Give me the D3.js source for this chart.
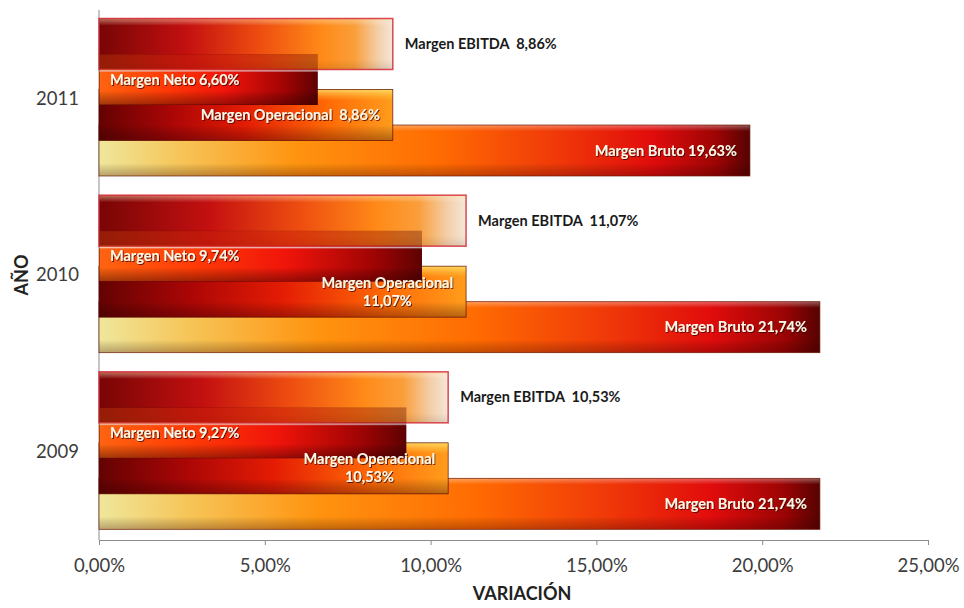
<!DOCTYPE html>
<html>
<head>
<meta charset="utf-8">
<script src="https://cdn.jsdelivr.net/npm/d3@7"></script>
<style>
  body { margin: 0; background: #fff; }
  svg { display: block; font-family: Lato, "Open Sans", sans-serif; }
  text { white-space: pre; }
</style>
</head>
<body>
<svg id="chart" width="964" height="608"></svg>
<script>
// ---- data ----
const years = ["2009", "2010", "2011"];
const seriesNames = ["Margen EBITDA", "Margen Neto", "Margen Operacional", "Margen Bruto"];
const ebitda = [10.53, 11.07, 8.86];
const neto = [9.27, 9.74, 6.60];
const operacional = [10.53, 11.07, 8.86];
const bruto = [21.74, 21.74, 19.63];
const operacionalTwoLines = [true, true, false];
const xTicks = [0, 5, 10, 15, 20, 25];
const xTitle = "VARIACIÓN";
const yTitle = "AÑO";

const rows = years.map((year, i) => ({
  year,
  values: {
    "Margen EBITDA": ebitda[i],
    "Margen Neto": neto[i],
    "Margen Operacional": operacional[i],
    "Margen Bruto": bruto[i]
  },
  opTwoLines: operacionalTwoLines[i]
}));

const locale = d3.formatLocale({ decimal: ",", thousands: ".", grouping: [3], currency: ["", "€"] });
const fmt2 = locale.format(".2f");
const pct = v => fmt2(v) + "%";

// ---- layout ----
const svg = d3.select("#chart");
const plot = { left: 99, right: 928, top: 10, bottom: 540 };

const x = d3.scaleLinear().domain([0, 25]).range([plot.left, plot.right]);
const yBand = d3.scaleBand().domain(years.slice().reverse()).range([plot.top, plot.bottom]);
const groupInset = 8.5;
const barH = 51;
const ySeries = d3.scalePoint().domain(seriesNames).range([0, 3 * 35.5]);
const barTop = (year, s) => yBand(year) + groupInset + ySeries(s);

// ---- gradients ----
const defs = svg.append("defs");
function hGrad(id, stops) {
  const g = defs.append("linearGradient").attr("id", id)
    .attr("x1", 0).attr("y1", 0).attr("x2", 1).attr("y2", 0);
  stops.forEach(([o, c, a]) => g.append("stop").attr("offset", o).attr("stop-color", c)
    .attr("stop-opacity", a == null ? 1 : a));
}
function vGrad(id, stops) {
  const g = defs.append("linearGradient").attr("id", id)
    .attr("x1", 0).attr("y1", 0).attr("x2", 0).attr("y2", 1);
  stops.forEach(([o, c, a]) => g.append("stop").attr("offset", o).attr("stop-color", c)
    .attr("stop-opacity", a == null ? 1 : a));
}

hGrad("g-ebitda", [[0, "#780505"], [0.3, "#c41010"], [0.55, "#ee4e10"], [0.76, "#ff8a18"], [0.87, "#fa9e3a"], [0.95, "#f3cfaa"], [1, "#f5e6d8"]]);
vGrad("s-ebitda", [[0, "#ffe0a0", 0.5], [0.14, "#ffffff", 0], [0.8, "#000000", 0], [1, "#000000", 0.1]]);

hGrad("g-bruto", [[0, "#efe79c"], [0.12, "#f6c65a"], [0.3, "#ff9410"], [0.52, "#ff6c02"], [0.7, "#f03a08"], [0.85, "#e10c0c"], [0.95, "#9c0404"], [1, "#560202"]]);
vGrad("s-bruto", [[0, "#ffffff", 0.35], [0.12, "#ffffff", 0], [0.75, "#000000", 0], [1, "#3a0000", 0.3]]);

hGrad("g-op", [[0, "#640202"], [0.25, "#ab0606"], [0.5, "#e41c04"], [0.78, "#ff6a06"], [1, "#ff9c1c"]]);
vGrad("s-op", [[0, "#fff07a", 0.75], [0.22, "#ffd040", 0], [0.7, "#000000", 0], [1, "#300000", 0.35]]);

hGrad("g-neto", [[0, "#ff6410"], [0.3, "#ff3a06"], [0.58, "#f0140a"], [0.85, "#a00404"], [1, "#5e0202"]]);
vGrad("s-neto", [[0, "#300000", 0.28], [0.32, "#300000", 0.2], [0.36, "#000000", 0], [0.72, "#000000", 0], [1, "#300000", 0.45]]);
vGrad("m-neto-g", [[0, "#ffffff", 0.35], [0.33, "#ffffff", 0.35], [0.36, "#ffffff", 1], [1, "#ffffff", 1]]);
const mask = defs.append("mask").attr("id", "m-neto").attr("maskContentUnits", "objectBoundingBox");
mask.append("rect").attr("width", 1).attr("height", 1).attr("fill", "url(#m-neto-g)");

const shadow = defs.append("filter").attr("id", "txt-shadow")
  .attr("x", "-10%").attr("y", "-30%").attr("width", "120%").attr("height", "160%");
shadow.append("feDropShadow").attr("dx", 0.9).attr("dy", 0.9).attr("stdDeviation", 0.7)
  .attr("flood-color", "#3a0000").attr("flood-opacity", 0.85);

// ---- axes ----
svg.append("line")
  .attr("x1", plot.left).attr("x2", plot.left)
  .attr("y1", plot.top).attr("y2", plot.bottom)
  .attr("stroke", "#8c8c8c").attr("stroke-width", 1);

const xAxis = svg.append("g").attr("transform", `translate(0,${plot.bottom})`)
  .call(d3.axisBottom(x).tickValues(xTicks).tickFormat(pct).tickSizeInner(5).tickSizeOuter(0));
xAxis.select(".domain").attr("stroke", "#8c8c8c");
xAxis.selectAll(".tick line").attr("stroke", "#8c8c8c");
xAxis.selectAll(".tick text")
  .attr("y", 26).attr("dy", "0.35em")
  .attr("fill", "#3c3c3c").attr("font-size", 18.5).attr("font-family", "Lato, sans-serif");

svg.selectAll(".year-label").data(years).join("text")
  .attr("class", "year-label")
  .attr("x", 79).attr("y", d => yBand(d) + yBand.bandwidth() / 2)
  .attr("dy", "0.35em").attr("text-anchor", "end")
  .attr("fill", "#3c3c3c").attr("font-size", 18.5).text(d => d);

svg.append("text")
  .attr("x", 522).attr("y", 594).attr("dy", "0.35em")
  .attr("text-anchor", "middle").attr("font-weight", "bold").attr("font-size", 18)
  .attr("fill", "#222").text(xTitle);

svg.append("text")
  .attr("transform", `translate(22,${(plot.top + plot.bottom) / 2}) rotate(-90)`)
  .attr("dy", "0.35em").attr("text-anchor", "middle")
  .attr("font-weight", "bold").attr("font-size", 18).attr("fill", "#222").text(yTitle);

// ---- bars ----
const drawOrder = ["Margen EBITDA", "Margen Bruto", "Margen Operacional", "Margen Neto"];
const style = {
  "Margen EBITDA": { fill: "g-ebitda", shade: "s-ebitda", stroke: "#d42a3a", sw: 1.5 },
  "Margen Bruto": { fill: "g-bruto", shade: "s-bruto", stroke: "#6a1a04", sw: 0.8 },
  "Margen Operacional": { fill: "g-op", shade: "s-op", stroke: "#5a0a02", sw: 0.8 },
  "Margen Neto": { fill: "g-neto", shade: "s-neto", stroke: "#4a0000", sw: 0.9, mask: "m-neto" }
};

const barsG = svg.append("g");
drawOrder.forEach(s => {
  const st = style[s];
  const g = barsG.append("g").attr("class", "series");
  const bar = g.selectAll("g").data(rows).join("g")
    .attr("mask", st.mask ? `url(#${st.mask})` : null);
  bar.append("rect")
    .attr("x", x(0)).attr("y", d => barTop(d.year, s))
    .attr("width", d => x(d.values[s]) - x(0)).attr("height", barH)
    .attr("fill", `url(#${st.fill})`);
  bar.append("rect")
    .attr("x", x(0)).attr("y", d => barTop(d.year, s))
    .attr("width", d => x(d.values[s]) - x(0)).attr("height", barH)
    .attr("fill", `url(#${st.shade})`)
    .attr("stroke", st.stroke).attr("stroke-width", st.sw).attr("stroke-opacity", 0.85);
});

// ---- labels ----
const labels = svg.append("g").attr("font-weight", "bold").attr("font-size", 14.5);
const mid = (year, s) => barTop(year, s) + barH / 2;

// EBITDA: outside end, dark text
labels.selectAll(".lab-ebitda").data(rows).join("text")
  .attr("x", d => x(d.values["Margen EBITDA"]) + 12)
  .attr("y", d => mid(d.year, "Margen EBITDA")).attr("dy", "0.35em")
  .attr("fill", "#1a1a1a")
  .text(d => "Margen EBITDA  " + pct(d.values["Margen EBITDA"]));

// Neto: inside base
labels.selectAll(".lab-neto").data(rows).join("text")
  .attr("x", x(0) + 11)
  .attr("y", d => mid(d.year, "Margen Neto")).attr("dy", "0.35em")
  .attr("fill", "#fff6e6").attr("filter", "url(#txt-shadow)")
  .text(d => "Margen Neto " + pct(d.values["Margen Neto"]));

// Bruto: inside end
labels.selectAll(".lab-bruto").data(rows).join("text")
  .attr("x", d => x(d.values["Margen Bruto"]) - 13)
  .attr("y", d => mid(d.year, "Margen Bruto")).attr("dy", "0.35em")
  .attr("text-anchor", "end")
  .attr("fill", "#fff6e6").attr("filter", "url(#txt-shadow)")
  .text(d => "Margen Bruto " + pct(d.values["Margen Bruto"]));

// Operacional: inside end, one or two lines
rows.forEach(d => {
  const v = d.values["Margen Operacional"];
  const right = x(v) - 13;
  const cy = mid(d.year, "Margen Operacional");
  if (!d.opTwoLines) {
    labels.append("text")
      .attr("x", right).attr("y", cy).attr("dy", "0.35em").attr("text-anchor", "end")
      .attr("fill", "#fff6e6").attr("filter", "url(#txt-shadow)")
      .text("Margen Operacional  " + pct(v));
  } else {
    const t1 = labels.append("text")
      .attr("y", cy - 9).attr("dy", "0.35em").attr("text-anchor", "middle")
      .attr("fill", "#fff6e6").attr("filter", "url(#txt-shadow)")
      .text("Margen Operacional");
    const w = t1.node().getComputedTextLength();
    const cx = right - w / 2;
    t1.attr("x", cx);
    labels.append("text")
      .attr("x", cx).attr("y", cy + 9).attr("dy", "0.35em").attr("text-anchor", "middle")
      .attr("fill", "#fff6e6").attr("filter", "url(#txt-shadow)")
      .text(pct(v));
  }
});
</script>
</body>
</html>
